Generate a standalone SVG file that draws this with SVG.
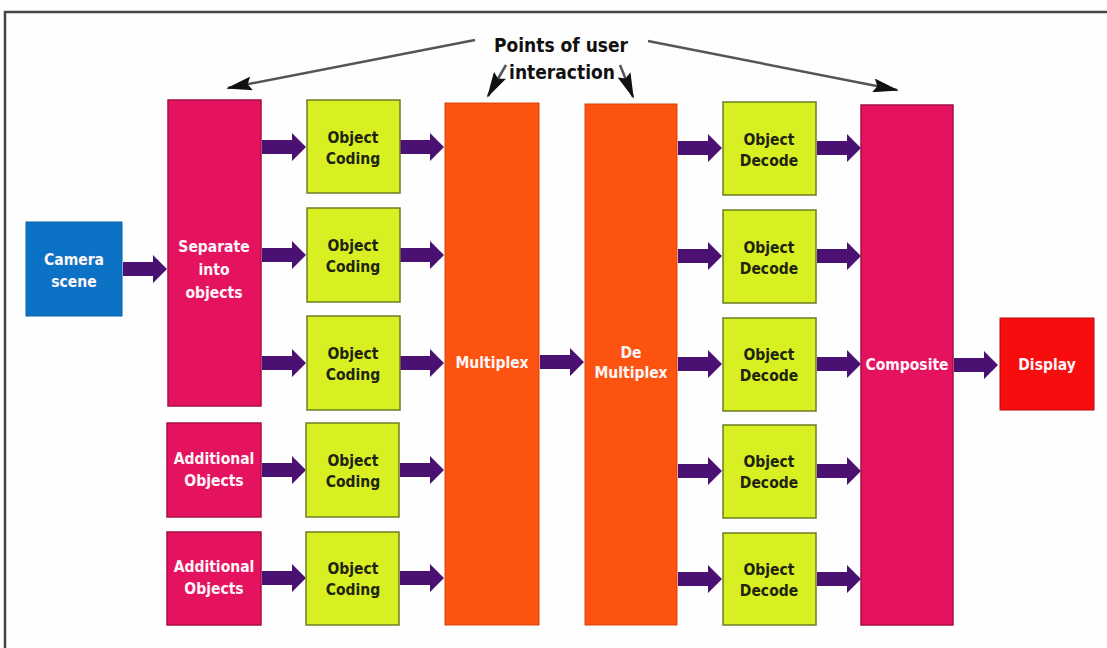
<svg xmlns="http://www.w3.org/2000/svg" xmlns:xlink="http://www.w3.org/1999/xlink" width="1107" height="648" viewBox="0 0 1107 648">
<style>
.lbl{font-family:"DejaVu Sans Condensed","DejaVu Sans","Liberation Sans",sans-serif;font-weight:bold;font-size:15.5px;text-anchor:middle}
.w{fill:#fff6f8}
.d{fill:#1f2410}
.mag{fill:#e5135f;stroke:#a80f45;stroke-width:1.5}
.yel{fill:#d8ef22;stroke:#6e7d24;stroke-width:1.5}
.org{fill:#fc5410;stroke:#d8420a;stroke-width:1}
.blu{fill:#0c72c6;stroke:#0a5ea5;stroke-width:1}
.red{fill:#f70d0d;stroke:#b80808;stroke-width:1}
.ann{stroke:#555;stroke-width:2.5;fill:none}
.top{font-family:"DejaVu Sans Condensed","DejaVu Sans","Liberation Sans",sans-serif;font-weight:bold;font-size:19px;text-anchor:middle;fill:#111}
</style>
<defs>
<path id="arr" d="M0,-7 H30 V-14 L44,0 L30,14 V7 H0 Z" fill="#4a1172"/>
<marker id="head" viewBox="0 0 26 14" refX="24" refY="7" markerWidth="26" markerHeight="14" markerUnits="userSpaceOnUse" orient="auto">
<path d="M0,0 L26,7 L0,14 L4,7 Z" fill="#111"/>
</marker>
</defs>
<rect x="0" y="0" width="1107" height="648" fill="#fefefe"/>
<path d="M5,648 V12 H1107" fill="none" stroke="#444" stroke-width="2.5"/>

<g id="annotation">
<text class="top" x="561" y="52">Points of user</text>
<text class="top" x="562" y="79">interaction</text>
</g>

<g id="connectors">
<line class="ann" x1="475" y1="40" x2="228" y2="88" marker-end="url(#head)"/>
<line class="ann" x1="648" y1="41" x2="897" y2="90" marker-end="url(#head)"/>
<line class="ann" x1="506" y1="65" x2="488" y2="96" marker-end="url(#head)"/>
<line class="ann" x1="620" y1="65" x2="633" y2="97" marker-end="url(#head)"/>
<use xlink:href="#arr" x="123" y="269"/>
<use xlink:href="#arr" x="262" y="147"/>
<use xlink:href="#arr" x="262" y="255"/>
<use xlink:href="#arr" x="262" y="363"/>
<use xlink:href="#arr" x="262" y="470"/>
<use xlink:href="#arr" x="262" y="578"/>
<use xlink:href="#arr" x="400" y="147"/>
<use xlink:href="#arr" x="400" y="255"/>
<use xlink:href="#arr" x="400" y="363"/>
<use xlink:href="#arr" x="400" y="470"/>
<use xlink:href="#arr" x="400" y="578"/>
<use xlink:href="#arr" x="540" y="362"/>
<use xlink:href="#arr" x="678" y="148"/>
<use xlink:href="#arr" x="678" y="256"/>
<use xlink:href="#arr" x="678" y="364"/>
<use xlink:href="#arr" x="678" y="471"/>
<use xlink:href="#arr" x="678" y="579"/>
<use xlink:href="#arr" x="817" y="148"/>
<use xlink:href="#arr" x="817" y="256"/>
<use xlink:href="#arr" x="817" y="364"/>
<use xlink:href="#arr" x="817" y="471"/>
<use xlink:href="#arr" x="817" y="579"/>
<use xlink:href="#arr" x="954" y="365"/>
</g>

<g id="camera">
<rect class="blu" x="26" y="222" width="96" height="94"/>
<text class="lbl w" x="74" y="265">Camera</text>
<text class="lbl w" x="74" y="287">scene</text>
</g>

<g id="separate">
<rect class="mag" x="168" y="100" width="93" height="306"/>
<text class="lbl w" x="214" y="252">Separate</text>
<text class="lbl w" x="214" y="275">into</text>
<text class="lbl w" x="214" y="298">objects</text>
</g>

<g id="additional1">
<rect class="mag" x="167" y="423" width="94" height="94"/>
<text class="lbl w" x="214" y="464">Additional</text>
<text class="lbl w" x="214" y="486">Objects</text>
</g>
<g id="additional2">
<rect class="mag" x="167" y="532" width="94" height="93"/>
<text class="lbl w" x="214" y="572">Additional</text>
<text class="lbl w" x="214" y="594">Objects</text>
</g>

<g id="coding1">
<rect class="yel" x="307" y="100" width="93" height="93"/>
<text class="lbl d" x="353" y="143">Object</text>
<text class="lbl d" x="353" y="164">Coding</text>
</g>
<g id="coding2">
<rect class="yel" x="307" y="208" width="93" height="94"/>
<text class="lbl d" x="353" y="251">Object</text>
<text class="lbl d" x="353" y="272">Coding</text>
</g>
<g id="coding3">
<rect class="yel" x="307" y="316" width="93" height="94"/>
<text class="lbl d" x="353" y="359">Object</text>
<text class="lbl d" x="353" y="380">Coding</text>
</g>
<g id="coding4">
<rect class="yel" x="306" y="423" width="93" height="94"/>
<text class="lbl d" x="353" y="466">Object</text>
<text class="lbl d" x="353" y="487">Coding</text>
</g>
<g id="coding5">
<rect class="yel" x="306" y="532" width="93" height="93"/>
<text class="lbl d" x="353" y="574">Object</text>
<text class="lbl d" x="353" y="595">Coding</text>
</g>

<g id="multiplex">
<rect class="org" x="445" y="103" width="94" height="522"/>
<text class="lbl w" x="492" y="368">Multiplex</text>
</g>

<g id="demultiplex">
<rect class="org" x="585" y="104" width="92" height="521"/>
<text class="lbl w" x="631" y="358">De</text>
<text class="lbl w" x="631" y="378">Multiplex</text>
</g>

<g id="decode1">
<rect class="yel" x="723" y="102" width="93" height="93"/>
<text class="lbl d" x="769" y="145">Object</text>
<text class="lbl d" x="769" y="166">Decode</text>
</g>
<g id="decode2">
<rect class="yel" x="723" y="210" width="93" height="93"/>
<text class="lbl d" x="769" y="253">Object</text>
<text class="lbl d" x="769" y="274">Decode</text>
</g>
<g id="decode3">
<rect class="yel" x="723" y="318" width="93" height="93"/>
<text class="lbl d" x="769" y="360">Object</text>
<text class="lbl d" x="769" y="381">Decode</text>
</g>
<g id="decode4">
<rect class="yel" x="723" y="425" width="93" height="93"/>
<text class="lbl d" x="769" y="467">Object</text>
<text class="lbl d" x="769" y="488">Decode</text>
</g>
<g id="decode5">
<rect class="yel" x="723" y="533" width="93" height="92"/>
<text class="lbl d" x="769" y="575">Object</text>
<text class="lbl d" x="769" y="596">Decode</text>
</g>

<g id="composite">
<rect class="mag" x="861" y="105" width="92" height="520"/>
<text class="lbl w" x="907" y="370">Composite</text>
</g>

<g id="display">
<rect class="red" x="1000" y="318" width="94" height="92"/>
<text class="lbl w" x="1047" y="370">Display</text>
</g>
</svg>
